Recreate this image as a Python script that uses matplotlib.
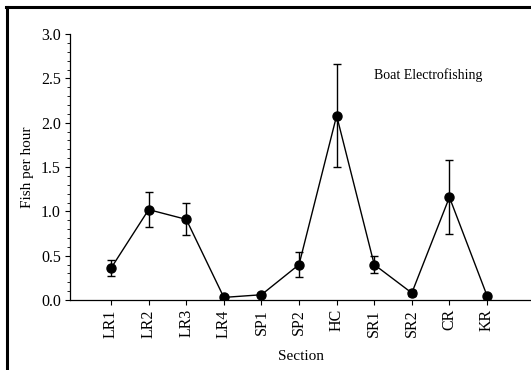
import matplotlib
matplotlib.use("Agg")
import matplotlib.pyplot as plt
import numpy as np
from matplotlib.lines import Line2D
from matplotlib.ticker import MultipleLocator, FormatStrFormatter

plt.rcParams["font.family"] = ["Liberation Serif", "DejaVu Serif"]

sections = ["LR1", "LR2", "LR3", "LR4", "SP1", "SP2", "HC", "SR1", "SR2", "CR", "KR"]
fish_per_hour = [0.36, 1.02, 0.91, 0.03, 0.06, 0.40, 2.08, 0.40, 0.08, 1.16, 0.05]
std_err = [0.09, 0.20, 0.18, 0.0, 0.02, 0.14, 0.58, 0.10, 0.03, 0.42, 0.0]

fig = plt.figure(figsize=(5.31, 3.70), dpi=100)
ax = fig.add_axes([0.132, 0.189, 0.868, 0.719])

xs = np.arange(len(sections))
ax.errorbar(xs, fish_per_hour, yerr=std_err, color="black", lw=1.0,
            marker="o", ms=6.5, capsize=3, capthick=1.0, elinewidth=1.0)

ax.set_xlim(-1.09, 11.17)
ax.set_ylim(0, 3.0)
ax.set_xticks(xs)
ax.set_xticklabels(sections, rotation=90, fontsize=11.5)
ax.yaxis.set_major_locator(MultipleLocator(0.5))
ax.yaxis.set_minor_locator(MultipleLocator(0.1))
ax.yaxis.set_major_formatter(FormatStrFormatter("%.1f"))
ax.tick_params(axis="y", labelsize=11.5, length=3.6, width=0.8, pad=3, direction="out")
ax.tick_params(axis="y", which="minor", length=2, width=0.6)
ax.tick_params(axis="x", length=3.6, width=0.8, pad=3, direction="out")
ax.spines[["top", "right"]].set_visible(False)
ax.spines[["left", "bottom"]].set_linewidth(0.9)

ax.set_ylabel("Fish per hour", fontsize=11, labelpad=5)
ax.set_xlabel("Section", fontsize=11, labelpad=9)
ax.text(0.66, 0.845, "Boat Electrofishing", transform=ax.transAxes,
        fontsize=10, va="center")

# scan border (left and top only)
fig.add_artist(Line2D([6.5 / 531, 6.5 / 531], [0, 1 - 6.5 / 370], color="black", lw=2.2,
                      transform=fig.transFigure))
fig.add_artist(Line2D([5.5 / 531, 1], [1 - 6.5 / 370, 1 - 6.5 / 370], color="black", lw=2.2,
                      transform=fig.transFigure))

fig.savefig("out.png", dpi=100)
